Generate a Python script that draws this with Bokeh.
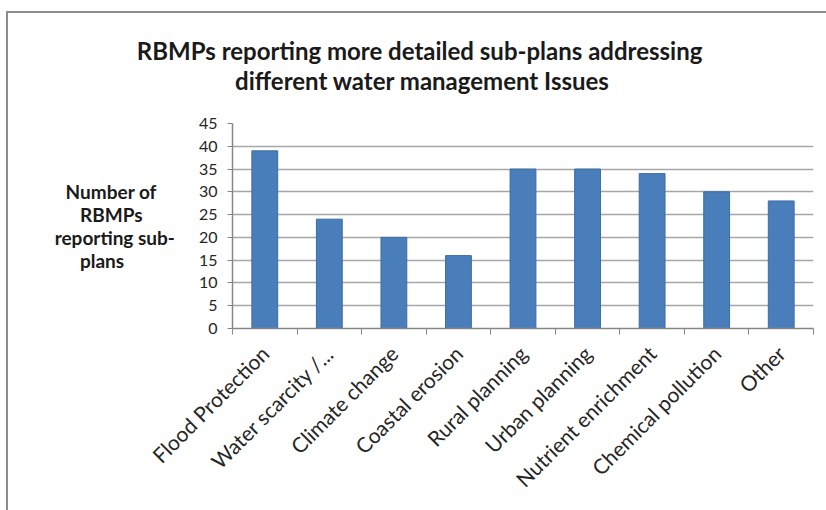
from math import pi
from bokeh.plotting import figure
from bokeh.layouts import column, row
from bokeh.models import Range1d, FixedTicker, Label
from bokeh.embed import file_html
from bokeh.resources import INLINE

title_lines = ["RBMPs reporting  more detailed sub-plans addressing",
               "different water management Issues"]
y_label_lines = ["Number of", "RBMPs", "reporting sub-", "plans"]
y_label_pad = [4, 7, 0, 11]   # no-break spaces that centre the right-aligned lines
categories = ["Flood Protection", "Water scarcity /...", "Climate change",
              "Coastal erosion", "Rural planning", "Urban planning",
              "Nutrient enrichment", "Chemical pollution", "Other"]
values = [39, 24, 20, 16, 35, 35, 34, 30, 28]
y_ticks = [0, 5, 10, 15, 20, 25, 30, 35, 40, 45]

FONT = "Lato"
W, H = 826, 510
TOP_H = 110                  # title strip
MAIN_H = H - TOP_H

# ---- title strip (its frame is the whole strip; data units = pixels)
top = figure(width=W, height=TOP_H, output_backend="svg", toolbar_location=None,
             x_range=Range1d(0, W), y_range=Range1d(TOP_H, 0),
             x_axis_type=None, y_axis_type=None, min_border=0)
top.title = None
top.grid.visible = False
top.outline_line_color = None
top.background_fill_alpha = 0
top.border_fill_alpha = 0
for i, line in enumerate(title_lines):
    top.add_layout(Label(x=422, y=50 + 30 * i, text=line, text_align="center",
                         text_baseline="middle", text_font=FONT, text_font_style="bold",
                         text_font_size="24px", text_color="#1a1a1a"))

# ---- main chart
n = len(categories)
centers = [i + 0.5 for i in range(n)]
bounds = list(range(n + 1))

p = figure(width=W, height=MAIN_H, output_backend="svg", toolbar_location=None,
           x_range=Range1d(0, n), y_range=Range1d(y_ticks[0], y_ticks[-1]),
           min_border_left=232, min_border_right=13, min_border_top=123 - TOP_H,
           min_border_bottom=H - 328)
p.title = None
p.border_fill_alpha = 0
p.background_fill_alpha = 0

p.vbar(x=centers, top=values, width=0.4, fill_color="#4A7EBB",
       line_color="#3B6CA6", line_width=1)

p.outline_line_color = None
p.xgrid.grid_line_color = None
p.ygrid.grid_line_color = "#A6A6A6"
p.ygrid.grid_line_width = 1.5
p.ygrid.ticker = FixedTicker(ticks=y_ticks)

xa = p.xaxis[0]
xa.ticker = FixedTicker(ticks=centers, minor_ticks=bounds)
xa.major_label_overrides = {c: lab for c, lab in zip(centers, categories)}
xa.major_label_orientation = pi / 4
xa.major_tick_line_color = None
xa.minor_tick_line_color = "#868686"
xa.minor_tick_in = 0
xa.minor_tick_out = 6
xa.axis_line_color = "#868686"
xa.axis_line_width = 1.5
xa.major_label_text_font = FONT
xa.major_label_text_font_size = "21px"
xa.major_label_text_color = "#262626"
xa.major_label_standoff = 15

ya = p.yaxis[0]
ya.ticker = FixedTicker(ticks=y_ticks, minor_ticks=[])
ya.major_tick_in = 0
ya.major_tick_out = 5
ya.major_tick_line_color = "#868686"
ya.axis_line_color = "#868686"
ya.axis_line_width = 1.5
ya.major_label_text_font = FONT
ya.major_label_text_font_size = "16px"
ya.major_label_text_color = "#262626"
ya.major_label_standoff = 10
ya.axis_label = "\n".join(line + "\u00a0" * k for line, k in zip(y_label_lines, y_label_pad))
ya.axis_label_orientation = "horizontal"
ya.axis_label_text_font = FONT
ya.axis_label_text_font_style = "bold"
ya.axis_label_text_font_size = "19px"
ya.axis_label_text_line_height = 1.0
ya.axis_label_text_color = "#1a1a1a"
ya.axis_label_standoff = 21

layout = column(top, row(p, spacing=0), spacing=0)
layout.styles = {
    "background-image": "linear-gradient(#8C8C8C,#8C8C8C), linear-gradient(#8C8C8C,#8C8C8C)",
    "background-repeat": "no-repeat",
    "background-position": "6px 11px, 6px 11px",
    "background-size": "100% 2px, 2px 100%",
}

open("out.html", "w").write(file_html(layout, INLINE))
